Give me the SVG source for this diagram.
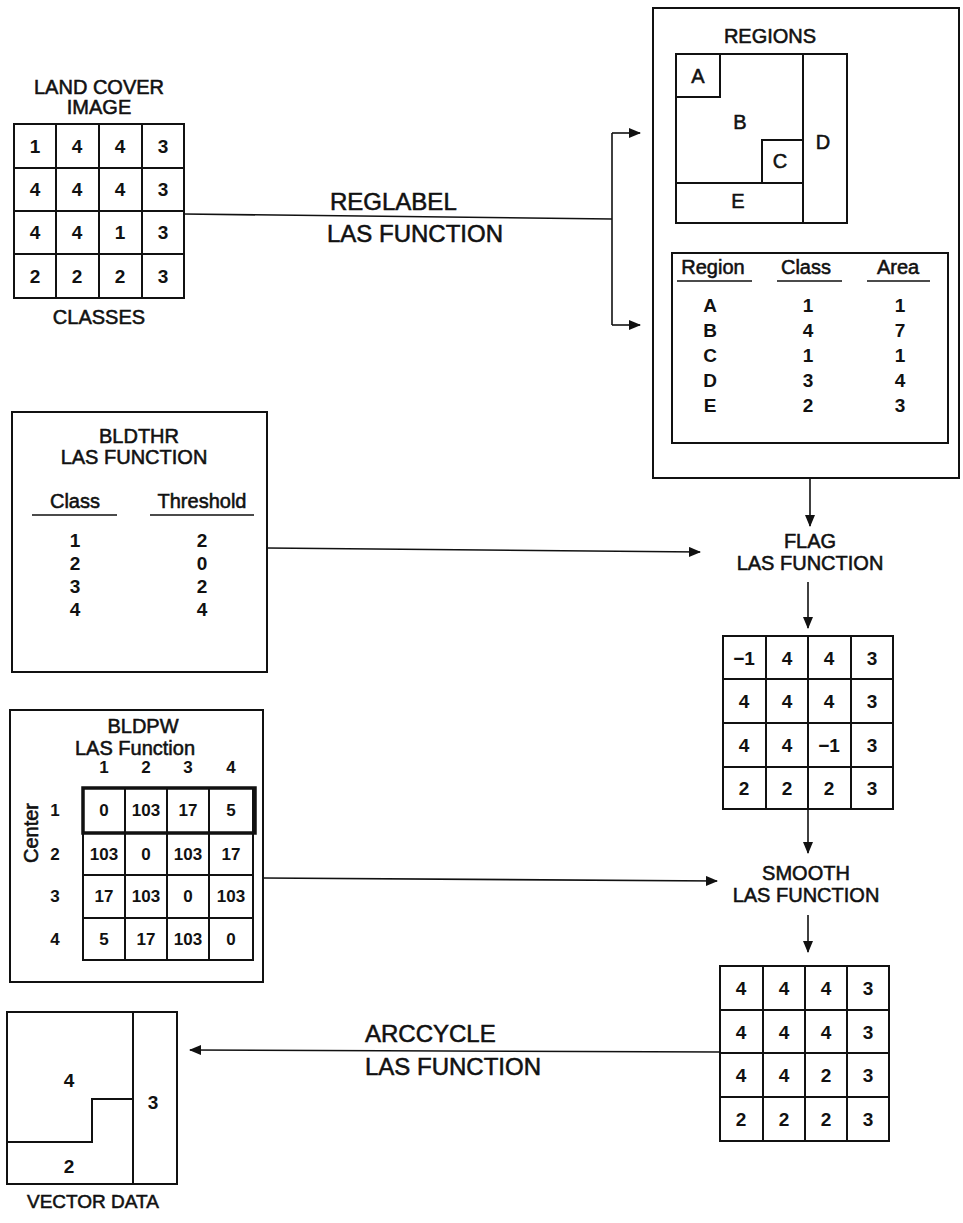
<svg xmlns="http://www.w3.org/2000/svg" width="963" height="1223" viewBox="0 0 963 1223">
<defs>
<marker id="ah" viewBox="0 0 12 10" refX="11" refY="5" markerWidth="12" markerHeight="10" markerUnits="userSpaceOnUse" orient="auto">
<path d="M0,0 L12,5 L0,10 Z" fill="#111"/>
</marker>
<style>
.t{font-family:"Liberation Sans",Arial,sans-serif;fill:#111;stroke:#111;stroke-width:0.55;text-anchor:middle;font-size:20px}
.big{font-size:24px;text-anchor:start}
.d{font-family:"Liberation Sans",Arial,sans-serif;fill:#111;text-anchor:middle;font-size:19px;font-weight:bold}
.s{font-size:17px}
.box{fill:none;stroke:#111;stroke-width:2}
.g{fill:none;stroke:#111;stroke-width:2}
.c{fill:none;stroke:#111;stroke-width:1.6}
.u{stroke:#111;stroke-width:1.6}
</style>
</defs>
<rect width="963" height="1223" fill="#fff"/>

<g id="land-cover">
<text class="t" x="99" y="94">LAND COVER</text>
<text class="t" x="99" y="114">IMAGE</text>
<rect class="g" x="14" y="124" width="170" height="174"/>
<path class="g" d="M56,124V298M99,124V298M142,124V298M14,168H184M14,211H184M14,254H184"/>
<g class="d">
<text x="35" y="153">1</text><text x="77" y="153">4</text><text x="120" y="153">4</text><text x="163" y="153">3</text>
<text x="35" y="196">4</text><text x="77" y="196">4</text><text x="120" y="196">4</text><text x="163" y="196">3</text>
<text x="35" y="239">4</text><text x="77" y="239">4</text><text x="120" y="239">1</text><text x="163" y="239">3</text>
<text x="35" y="283">2</text><text x="77" y="283">2</text><text x="120" y="283">2</text><text x="163" y="283">3</text>
</g>
<text class="t" x="99" y="324">CLASSES</text>
</g>

<g id="regions-box">
<rect class="box" x="653" y="8" width="306" height="470"/>
<text class="t" x="770" y="43">REGIONS</text>
<rect class="g" x="676" y="54" width="171" height="169"/>
<path class="g" d="M803,54V223M676,183H803M676,97H720V54M762,183V140H803"/>
<g class="t">
<text x="698" y="83">A</text>
<text x="740" y="129">B</text>
<text x="823" y="149">D</text>
<text x="780" y="168">C</text>
<text x="738" y="208">E</text>
</g>
<rect class="box" x="672" y="253" width="276" height="190"/>
<g class="t">
<text x="713" y="274">Region</text>
<text x="806" y="274">Class</text>
<text x="898" y="274">Area</text>
</g>
<path class="u" d="M677,281H752M777,281H842M867,281H930"/>
<g class="d">
<text x="710" y="312">A</text><text x="808" y="312">1</text><text x="900" y="312">1</text>
<text x="710" y="337">B</text><text x="808" y="337">4</text><text x="900" y="337">7</text>
<text x="710" y="362">C</text><text x="808" y="362">1</text><text x="900" y="362">1</text>
<text x="710" y="387">D</text><text x="808" y="387">3</text><text x="900" y="387">4</text>
<text x="710" y="412">E</text><text x="808" y="412">2</text><text x="900" y="412">3</text>
</g>
</g>

<g id="bldthr">
<rect class="box" x="12" y="412" width="255" height="260"/>
<text class="t" x="139" y="443">BLDTHR</text>
<text class="t" x="134" y="464">LAS FUNCTION</text>
<text class="t" x="75" y="508">Class</text>
<text class="t" x="202" y="508">Threshold</text>
<path class="u" d="M32,515H117M150,515H254"/>
<g class="d">
<text x="75" y="547">1</text><text x="202" y="547">2</text>
<text x="75" y="570">2</text><text x="202" y="570">0</text>
<text x="75" y="593">3</text><text x="202" y="593">2</text>
<text x="75" y="616">4</text><text x="202" y="616">4</text>
</g>
</g>

<g id="flag">
<text class="t" x="810" y="548">FLAG</text>
<text class="t" x="810" y="570">LAS FUNCTION</text>
</g>

<g id="flag-grid">
<rect class="g" x="723" y="636" width="170" height="173"/>
<path class="g" d="M766,636V809M808,636V809M851,636V809M723,679H893M723,723H893M723,767H893"/>
<g class="d">
<text x="744" y="665">−1</text><text x="787" y="665">4</text><text x="829" y="665">4</text><text x="872" y="665">3</text>
<text x="744" y="708">4</text><text x="787" y="708">4</text><text x="829" y="708">4</text><text x="872" y="708">3</text>
<text x="744" y="752">4</text><text x="787" y="752">4</text><text x="829" y="752">−1</text><text x="872" y="752">3</text>
<text x="744" y="795">2</text><text x="787" y="795">2</text><text x="829" y="795">2</text><text x="872" y="795">3</text>
</g>
</g>

<g id="bldpw">
<rect class="box" x="10" y="710" width="253" height="272"/>
<text class="t" x="143" y="733">BLDPW</text>
<text class="t" x="135" y="755">LAS Function</text>
<g class="d s">
<text x="104" y="773">1</text><text x="146" y="773">2</text><text x="188" y="773">3</text><text x="231" y="773">4</text>
<text x="55" y="816">1</text><text x="55" y="860">2</text><text x="55" y="902">3</text><text x="55" y="945">4</text>
</g>
<text class="t" transform="translate(38,833) rotate(-90)" x="0" y="0">Center</text>
<rect class="g" x="83" y="788" width="170" height="172"/>
<path class="g" d="M125,788V960M167,788V960M209,788V960M83,875H253M83,918H253"/>
<rect fill="none" stroke="#111" stroke-width="3.5" x="83" y="788" width="172" height="45"/>
<g class="d s">
<text x="104" y="816">0</text><text x="146" y="816">103</text><text x="188" y="816">17</text><text x="231" y="816">5</text>
<text x="104" y="860">103</text><text x="146" y="860">0</text><text x="188" y="860">103</text><text x="231" y="860">17</text>
<text x="104" y="902">17</text><text x="146" y="902">103</text><text x="188" y="902">0</text><text x="231" y="902">103</text>
<text x="104" y="945">5</text><text x="146" y="945">17</text><text x="188" y="945">103</text><text x="231" y="945">0</text>
</g>
</g>

<g id="smooth">
<text class="t" x="806" y="880">SMOOTH</text>
<text class="t" x="806" y="902">LAS FUNCTION</text>
</g>

<g id="smooth-grid">
<rect class="g" x="720" y="966" width="169" height="175"/>
<path class="g" d="M763,966V1141M805,966V1141M847,966V1141M720,1010H889M720,1053H889M720,1097H889"/>
<g class="d">
<text x="741" y="995">4</text><text x="784" y="995">4</text><text x="826" y="995">4</text><text x="868" y="995">3</text>
<text x="741" y="1039">4</text><text x="784" y="1039">4</text><text x="826" y="1039">4</text><text x="868" y="1039">3</text>
<text x="741" y="1082">4</text><text x="784" y="1082">4</text><text x="826" y="1082">2</text><text x="868" y="1082">3</text>
<text x="741" y="1126">2</text><text x="784" y="1126">2</text><text x="826" y="1126">2</text><text x="868" y="1126">3</text>
</g>
</g>

<g id="vector-data">
<rect class="g" x="7" y="1012" width="170" height="172"/>
<path class="g" d="M133,1012V1184M7,1142H92V1099H133"/>
<g class="d">
<text x="69" y="1087">4</text>
<text x="153" y="1109">3</text>
<text x="69" y="1173">2</text>
</g>
<text class="t" x="93" y="1208" style="font-size:19px">VECTOR DATA</text>
</g>

<g id="connectors">
<path class="c" d="M184,214L612,219"/>
<path class="c" d="M612,133V325"/>
<path class="c" d="M612,133H640" marker-end="url(#ah)"/>
<path class="c" d="M612,325H640" marker-end="url(#ah)"/>
<path class="c" d="M810,478V526" marker-end="url(#ah)"/>
<path class="c" d="M267,548L700,552" marker-end="url(#ah)"/>
<path class="c" d="M808,582V628" marker-end="url(#ah)"/>
<path class="c" d="M808,809V853" marker-end="url(#ah)"/>
<path class="c" d="M263,878L717,881" marker-end="url(#ah)"/>
<path class="c" d="M808,915V952" marker-end="url(#ah)"/>
<path class="c" d="M720,1052L190,1050" marker-end="url(#ah)"/>
<text class="t big" x="330" y="210">REGLABEL</text>
<text class="t big" x="327" y="242">LAS FUNCTION</text>
<text class="t big" x="365" y="1042">ARCCYCLE</text>
<text class="t big" x="365" y="1075">LAS FUNCTION</text>
</g>
</svg>
